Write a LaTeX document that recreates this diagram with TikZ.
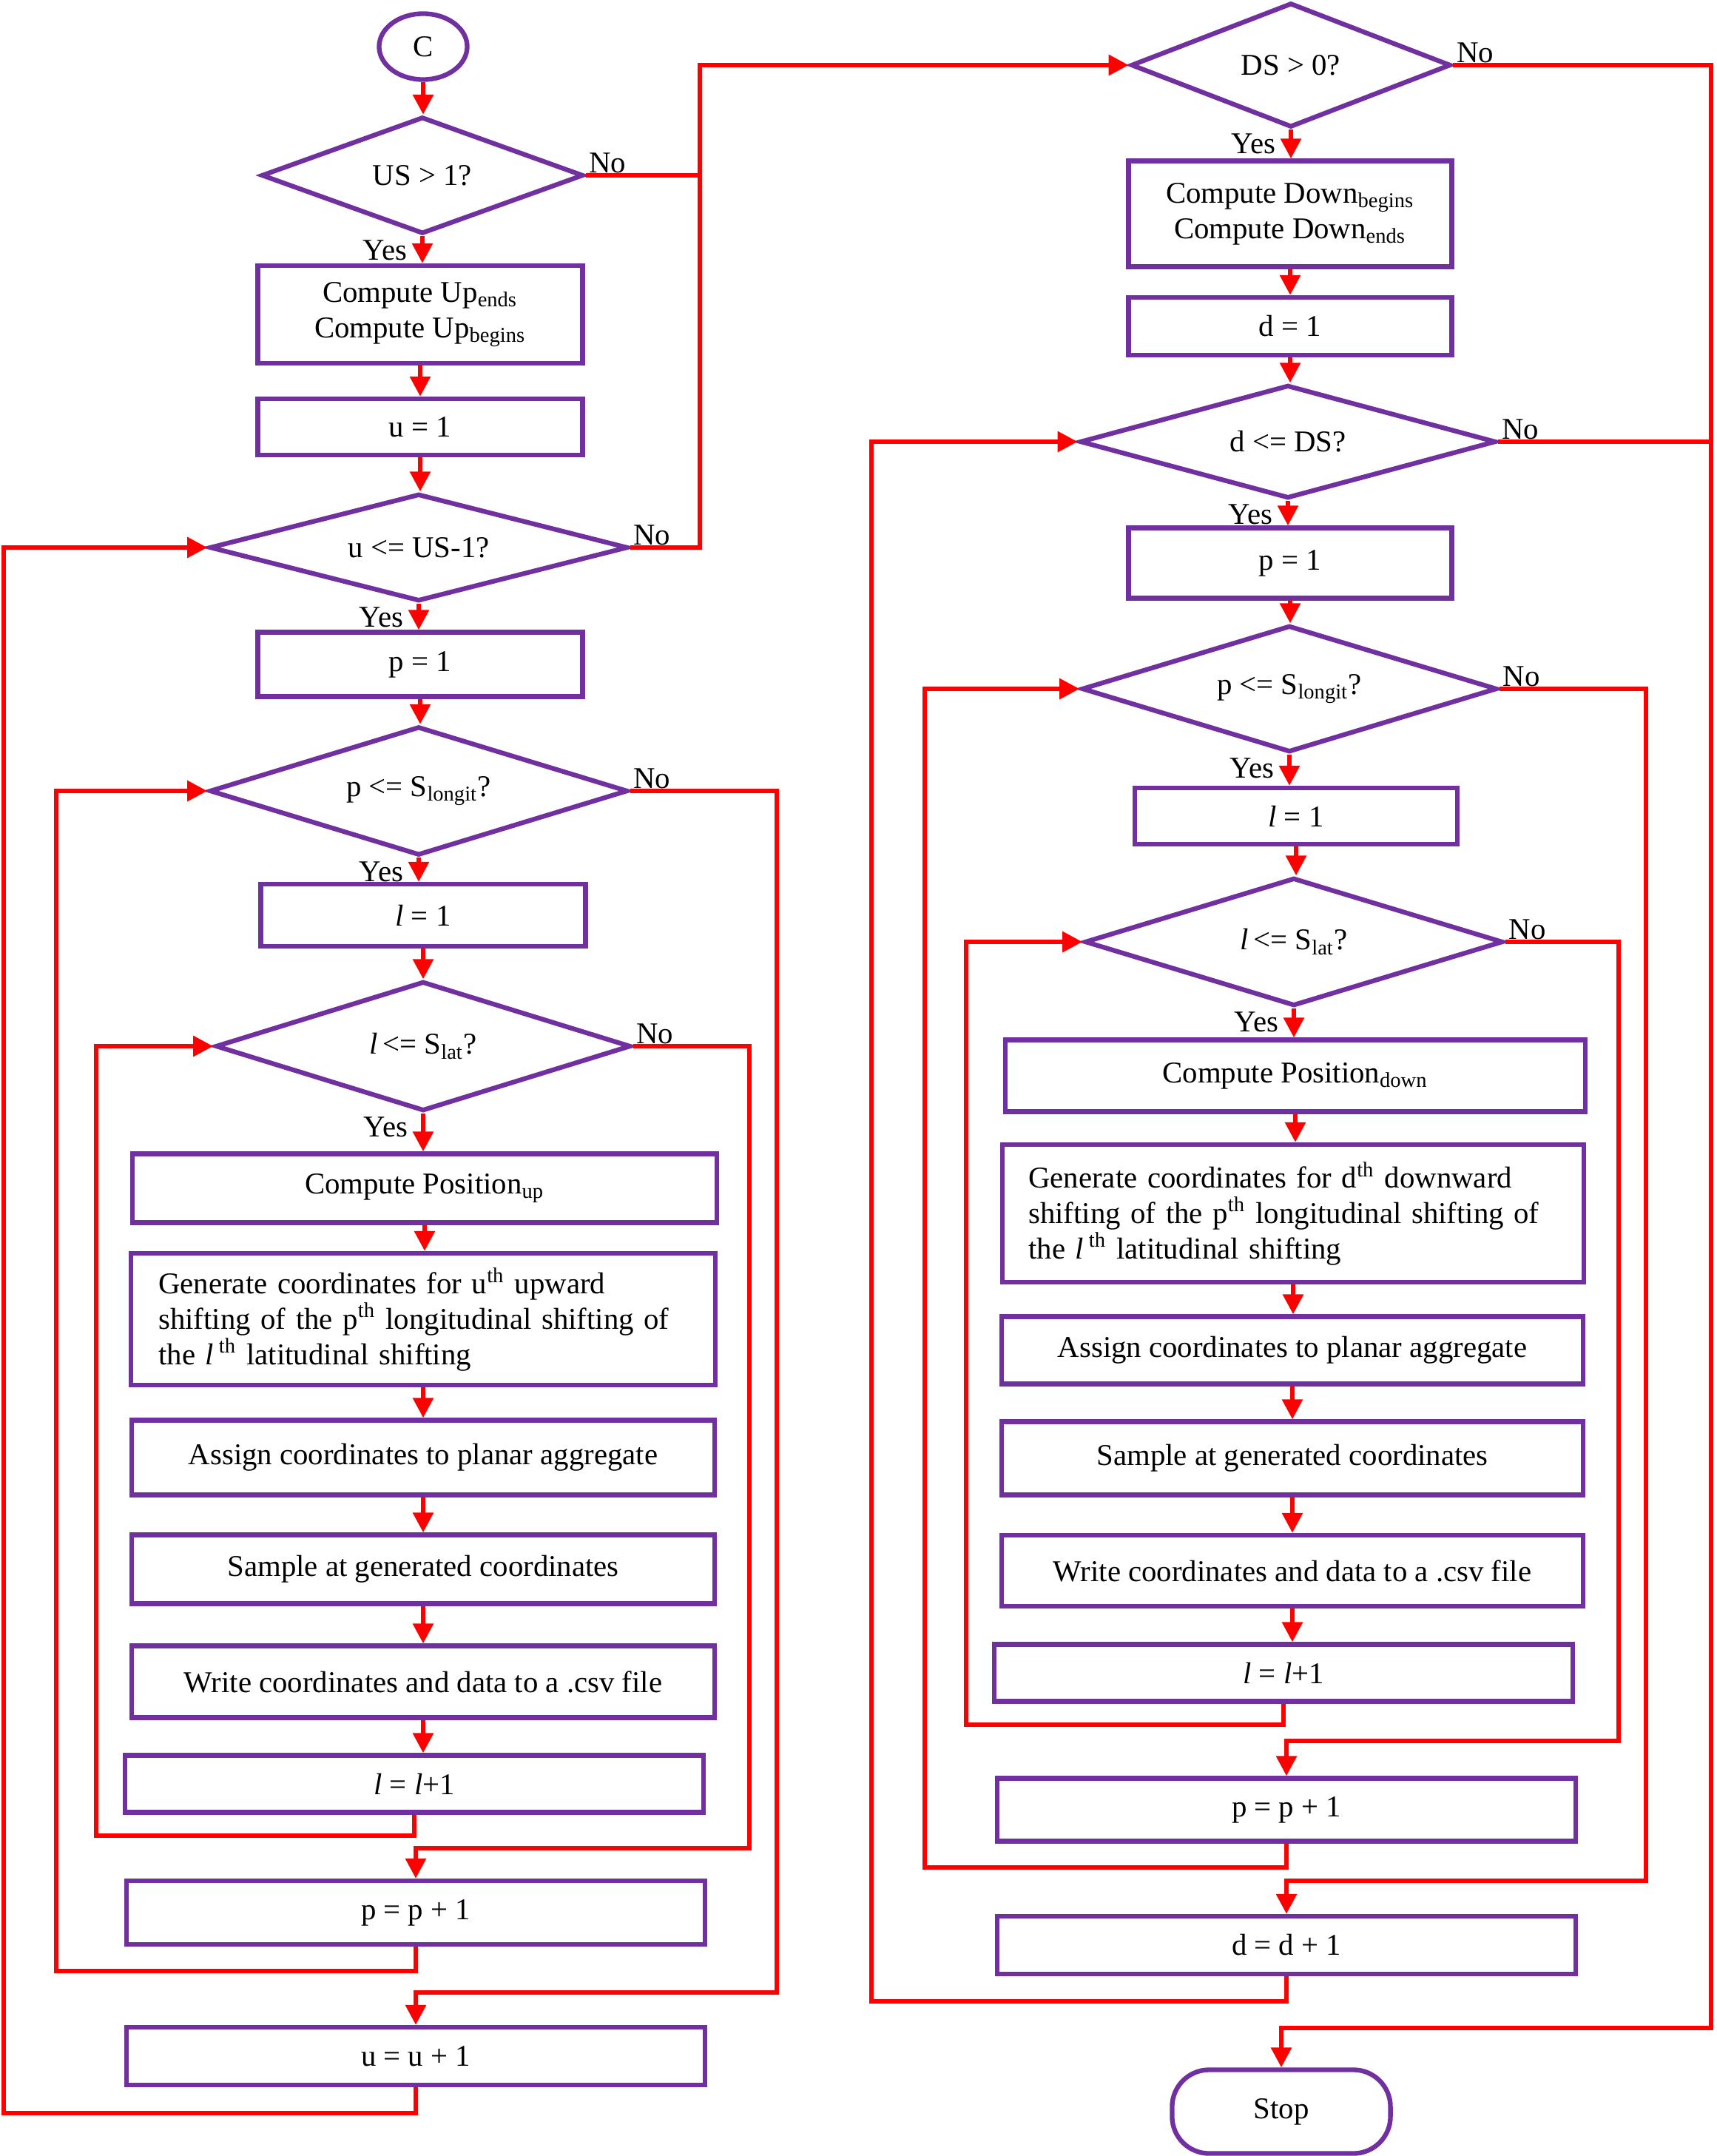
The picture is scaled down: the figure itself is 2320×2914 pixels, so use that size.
\documentclass[tikz,border=0pt]{standalone}
\usepackage{fontspec}
\setmainfont{Liberation Serif}
\usetikzlibrary{shapes.geometric,arrows.meta,calc}
\definecolor{pur}{HTML}{7030A0}
\definecolor{rd}{HTML}{FF0000}
\newcommand\varr[2]{\draw[arr] (#1.south) -- (#1.south |- #2.north);}
\begin{document}
\begin{tikzpicture}[x=0.01cm,y=-0.01cm,
  font=\fontsize{11.6}{13.6}\selectfont,
  box/.style={draw=pur, line width=1.8pt, rectangle, inner sep=0pt, align=center},
  dia/.style={draw=pur, line width=1.8pt, diamond, aspect=3, inner sep=0pt, align=center},
  ln/.style={draw=rd, line width=1.7pt},
  arr/.style={ln, -{Triangle[length=0.27cm,width=0.27cm]}},
  yes/.style={anchor=east, inner sep=0pt},
  no/.style={anchor=base west, inner sep=0pt},
  gen/.style={box, text width=7.15cm, align=left, inner xsep=0.34cm}
]
\useasboundingbox (0,0) rectangle (2320,2914);

% ---------------- left column ----------------
\node[draw=pur, line width=1.8pt, ellipse, minimum width=1.19cm, minimum height=0.89cm, inner sep=0pt] (C) at (572,63) {C};
\node[dia, minimum width=4.35cm, minimum height=1.58cm] (d1) at (571,237) {US > 1?};
\node[box, minimum width=4.39cm, minimum height=1.32cm] (b1) at (568,425) {Compute Up\textsubscript{ends}\\Compute Up\textsubscript{begins}};
\node[box, minimum width=4.39cm, minimum height=0.76cm] (b2) at (568,577) {u = 1};
\node[dia, minimum width=5.65cm, minimum height=1.45cm] (d2) at (566,740) {u <= US-1?};
\node[box, minimum width=4.39cm, minimum height=0.87cm] (b3) at (568,898) {p = 1};
\node[dia, minimum width=5.65cm, minimum height=1.74cm] (d3) at (566,1069) {p <= S\textsubscript{longit}?};
\node[box, minimum width=4.39cm, minimum height=0.84cm] (b4) at (572,1237) {\textit{l} = 1};
\node[dia, minimum width=5.61cm, minimum height=1.75cm] (d4) at (572,1414) {\textit{l}\,<= S\textsubscript{lat}?};
\node[box, minimum width=7.89cm, minimum height=0.93cm] (b5) at (574,1606) {Compute Position\textsubscript{up}};
\node[gen, minimum width=7.89cm, minimum height=1.78cm] (b6) at (572,1783) {Generate coordinates for u\textsuperscript{th} upward\\shifting of the p\textsuperscript{th} longitudinal shifting of\\the \textit{l}\,\textsuperscript{th} latitudinal shifting};
\node[box, minimum width=7.87cm, minimum height=1.01cm] (b7) at (572,1970) {Assign coordinates to planar aggregate};
\node[box, minimum width=7.87cm, minimum height=0.93cm] (b8) at (572,2121) {Sample at generated coordinates};
\node[box, minimum width=7.87cm, minimum height=0.97cm] (b9) at (572,2273) {Write coordinates and data to a .csv file};
\node[box, minimum width=7.81cm, minimum height=0.77cm] (b10) at (560,2411) {\textit{l} = \textit{l}+1};
\node[box, minimum width=7.81cm, minimum height=0.86cm] (b11) at (562,2585) {p = p + 1};
\node[box, minimum width=7.81cm, minimum height=0.78cm] (b12) at (562,2779) {u = u + 1};

% ---------------- right column ----------------
\node[dia, minimum width=4.32cm, minimum height=1.68cm] (d5) at (1745,88) {DS > 0?};
\node[box, minimum width=4.37cm, minimum height=1.43cm] (b13) at (1744,289) {Compute Down\textsubscript{begins}\\Compute Down\textsubscript{ends}};
\node[box, minimum width=4.37cm, minimum height=0.78cm] (b14) at (1744,441) {d = 1};
\node[dia, minimum width=5.62cm, minimum height=1.53cm] (d6) at (1741,597) {d <= DS?};
\node[box, minimum width=4.37cm, minimum height=0.95cm] (b15) at (1744,761) {p = 1};
\node[dia, minimum width=5.61cm, minimum height=1.71cm] (d7) at (1743,931) {p <= S\textsubscript{longit}?};
\node[box, minimum width=4.36cm, minimum height=0.76cm] (b16) at (1752,1103) {\textit{l} = 1};
\node[dia, minimum width=5.65cm, minimum height=1.73cm] (d8) at (1749,1273) {\textit{l}\,<= S\textsubscript{lat}?};
\node[box, minimum width=7.84cm, minimum height=0.97cm] (b17) at (1751,1454) {Compute Position\textsubscript{down}};
\node[gen, minimum width=7.86cm, minimum height=1.86cm] (b18) at (1748,1640) {Generate coordinates for d\textsuperscript{th} downward\\shifting of the p\textsuperscript{th} longitudinal shifting of\\the \textit{l}\,\textsuperscript{th} latitudinal shifting};
\node[box, minimum width=7.85cm, minimum height=0.91cm] (b19) at (1747,1825) {Assign coordinates to planar aggregate};
\node[box, minimum width=7.85cm, minimum height=0.99cm] (b20) at (1747,1971) {Sample at generated coordinates};
\node[box, minimum width=7.85cm, minimum height=0.96cm] (b21) at (1747,2123) {Write coordinates and data to a .csv file};
\node[box, minimum width=7.81cm, minimum height=0.77cm] (b22) at (1735,2261) {\textit{l} = \textit{l}+1};
\node[box, minimum width=7.82cm, minimum height=0.85cm] (b23) at (1739,2446) {p = p + 1};
\node[box, minimum width=7.82cm, minimum height=0.78cm] (b24) at (1739,2629) {d = d + 1};
\node[box, rounded corners=0.5cm, minimum width=2.95cm, minimum height=1.13cm] (stop) at (1732,2854) {Stop};

% ---------------- straight arrows ----------------
\varr{C}{d1}\varr{d1}{b1}\varr{b1}{b2}\varr{b2}{d2}\varr{d2}{b3}\varr{b3}{d3}
\varr{d3}{b4}\varr{b4}{d4}\varr{d4}{b5}\varr{b5}{b6}\varr{b6}{b7}\varr{b7}{b8}
\varr{b8}{b9}\varr{b9}{b10}
\varr{d5}{b13}\varr{b13}{b14}\varr{b14}{d6}\varr{d6}{b15}\varr{b15}{d7}\varr{d7}{b16}
\varr{b16}{d8}\varr{d8}{b17}\varr{b17}{b18}\varr{b18}{b19}\varr{b19}{b20}\varr{b20}{b21}
\varr{b21}{b22}

% ---------------- loop corners ----------------
\coordinate (jA) at (946,88);
\coordinate (lA) at (130,2481);
\coordinate (lB) at (1013,2498);
\coordinate (pA) at (76,2664);
\coordinate (pB) at (1050,2693);
\coordinate (uA) at (5,2856);
\coordinate (sA) at (2313,2741);
\coordinate (rlA) at (1306,2331);
\coordinate (rlB) at (2188,2353);
\coordinate (rpA) at (1250,2524);
\coordinate (rpB) at (2225,2542);
\coordinate (rdA) at (1178,2705);

% left side
\draw[ln] (d1.east) -- (d1.east -| jA);
\draw[arr] (d2.east) -| (jA) -- (d5.west);
\draw[arr] (b10.south) |- (lA) |- (d4.west);
\draw[arr] (d4.east) -| (lB) -| (b11.north);
\draw[arr] (b11.south) |- (pA) |- (d3.west);
\draw[arr] (d3.east) -| (pB) -| (b12.north);
\draw[arr] (b12.south) |- (uA) |- (d2.west);

% right side
\draw[arr] (d5.east) -| (sA) -| (stop.north);
\draw[ln] (d6.east) -- (d6.east -| sA);
\draw[arr] (b22.south) |- (rlA) |- (d8.west);
\draw[arr] (d8.east) -| (rlB) -| (b23.north);
\draw[arr] (b23.south) |- (rpA) |- (d7.west);
\draw[arr] (d7.east) -| (rpB) -| (b24.north);
\draw[arr] (b24.south) |- (rdA) |- (d6.west);

% ---------------- labels ----------------
\foreach \d in {d1,d2,d3,d4,d5,d6,d7,d8}{
  \node[yes] (yes-\d) at ([xshift=-0.2cm,yshift=-0.19cm]\d.south) {Yes};
  \node[no] (no-\d) at ([xshift=0.04cm,yshift=0.04cm]\d.east) {No};
}
\end{tikzpicture}
\end{document}
